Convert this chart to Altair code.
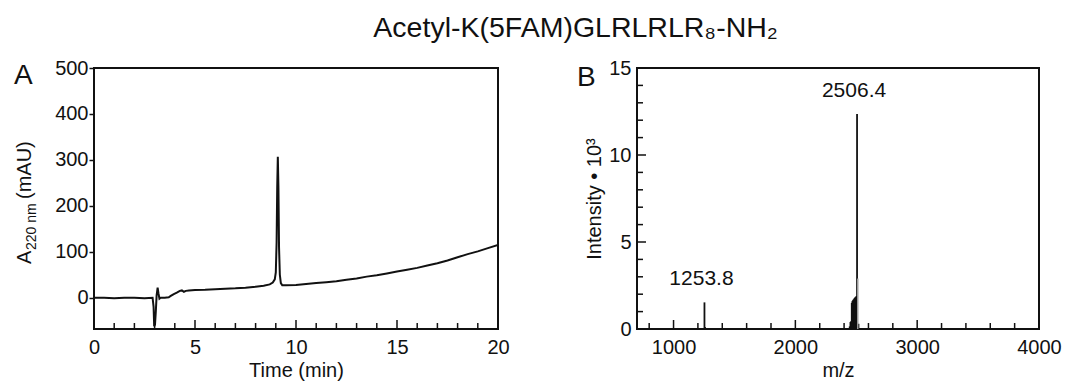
import altair as alt
import pandas as pd

FONT = "Liberation Sans"
INK = "#111111"

TITLE = "Acetyl-K(5FAM)GLRLRLR₈-NH₂"
YTITLE_A = ["A", "220 nm", "(mAU)"]

# ---- Panel A: HPLC trace (time in min, absorbance in mAU)
hplc_time = [0.0, 0.5, 1.0, 1.5, 2.0, 2.5, 2.9, 2.95, 2.98, 3.02, 3.06, 3.10,
             3.15, 3.19, 3.24, 3.3, 3.5, 3.7, 3.8, 3.95, 4.1, 4.25, 4.35, 4.45,
             4.55, 4.7, 5.0, 5.5, 6.0, 6.5, 7.0, 7.5, 8.0, 8.4, 8.7, 8.85, 8.95,
             9.0, 9.04, 9.07, 9.10, 9.13, 9.16, 9.2, 9.25, 9.32, 9.5, 10.0, 10.5,
             11.0, 11.5, 12.0, 12.5, 13.0, 13.5, 14.0, 14.5, 15.0, 15.5, 16.0,
             16.5, 17.0, 17.5, 18.0, 18.5, 19.0, 19.5, 20.0]
hplc_abs = [0, 0, -1, 0, 0, -1, 0, -20, -62, -58, -30, 5,
            22, 10, -2, 0, 0, 1, 4, 8, 11, 15, 16, 13,
            15, 16, 17, 17.5, 18.5, 19.5, 20.5, 22, 24, 26, 29, 33, 40,
            55, 120, 240, 307, 240, 110, 50, 32, 27, 27, 28, 30,
            32, 34, 36, 39, 42, 46, 49, 53, 57, 61, 65,
            70, 75, 81, 88, 95, 101, 108, 115]

a_x_labels = [0, 5, 10, 15, 20]
a_x_minor = [1, 2, 3, 4, 6, 7, 8, 9, 11, 12, 13, 14, 16, 17, 18, 19]
a_y_labels = [0, 100, 200, 300, 400, 500]

# ---- Panel B: mass spectrum (m/z, intensity x 10^3)
ms_mz = [1253.8, 1258, 2446, 2452, 2458, 2463, 2468, 2473, 2478, 2483, 2488,
         2493, 2498, 2502, 2506.4, 2518]
ms_int = [1.53, 0.12, 0.15, 0.40, 0.45, 1.50, 1.60, 1.65, 1.70, 1.75, 1.80,
          1.82, 1.85, 1.90, 12.36, 0.30]
ms_shoulder_mz = [2512]
ms_shoulder_int = [2.9]
peak_label_mz = [1253.8, 2506.4]
peak_label_int = [1.53, 12.36]
peak_label_text = ["1253.8", "2506.4"]

b_x_labels = [1000, 2000, 3000, 4000]
b_x_minor = [800, 1200, 1400, 1600, 1800, 2200, 2400, 2600, 2800,
             3200, 3400, 3600, 3800]
b_y_labels = [0, 5, 10, 15]
b_y_minor = [1, 2, 3, 4, 6, 7, 8, 9, 11, 12, 13, 14]

WA, WB, H = 404, 402, 261
MINOR, MAJOR = 6, 9


def xA():
    return alt.X("t:Q", scale=alt.Scale(domain=[0, 20], nice=False, zero=False),
                 axis=alt.Axis(values=a_x_labels, ticks=False, domain=False, grid=False,
                               labelPadding=8, labelFlush=False, title="Time (min)",
                               titlePadding=3, format="d"))


def yA():
    return alt.Y("v:Q", scale=alt.Scale(domain=[-68, 500], nice=False, zero=False),
                 axis=alt.Axis(values=a_y_labels, tickSize=5, domain=False, grid=False,
                               labelPadding=1, labelFlush=False, title=None, format="d"))


def xB():
    return alt.X("mz:Q", scale=alt.Scale(domain=[700, 4000], nice=False, zero=False),
                 axis=alt.Axis(values=b_x_labels, ticks=False, domain=False, grid=False,
                               labelPadding=8, labelFlush=False, title="m/z",
                               titlePadding=3, format="d"))


def yB():
    return alt.Y("i:Q", scale=alt.Scale(domain=[0, 15], nice=False, zero=False),
                 axis=alt.Axis(values=b_y_labels, ticks=False, domain=False, grid=False,
                               labelPadding=6, labelFlush=False, title="Intensity • 10³",
                               titlePadding=4, format="d"))


def label(txt, size, x, y, angle=0):
    return alt.Chart(pd.DataFrame({"txt": [txt]})).mark_text(
        font=FONT, fontSize=size, color=INK, align="left", baseline="alphabetic",
        angle=angle).encode(text="txt:N", x=alt.value(x), y=alt.value(y))


# ---------------- Panel A ----------------
dfA = pd.DataFrame({"t": hplc_time, "v": hplc_abs})
lineA = alt.Chart(dfA).mark_line(color=INK, strokeWidth=2, clip=True).encode(x=xA(), y=yA())
ticksA_minor = alt.Chart(pd.DataFrame({"t": a_x_minor})).mark_rule(
    color=INK, strokeWidth=1.5).encode(x=xA(), y=alt.value(H), y2=alt.value(H - MINOR))
ticksA_major = alt.Chart(pd.DataFrame({"t": a_x_labels})).mark_rule(
    color=INK, strokeWidth=1.5).encode(x=xA(), y=alt.value(H), y2=alt.value(H - MAJOR))
tagA = label("A", 28, -80, 16)
# y-axis title with a real subscript: A(220 nm) (mAU), read bottom-to-top
ytA1 = label(YTITLE_A[0], 20, -63, 196, 270)
ytA2 = label(YTITLE_A[1], 14, -58, 182, 270)
ytA3 = label(YTITLE_A[2], 20, -63, 131, 270)

panelA = alt.layer(lineA, ticksA_minor, ticksA_major, tagA, ytA1, ytA2, ytA3).properties(
    width=WA, height=H)

# ---------------- Panel B ----------------
dfB = pd.DataFrame({"mz": ms_mz, "i": ms_int})
sticks = alt.Chart(dfB).mark_rule(color=INK, strokeWidth=1.8).encode(
    x=xB(), y=yB(), y2=alt.datum(0))
shoulder = alt.Chart(pd.DataFrame({"mz": ms_shoulder_mz, "i": ms_shoulder_int})).mark_rule(
    color="#9a9a9a", strokeWidth=1.5).encode(x=xB(), y=yB(), y2=alt.datum(0))
labelsB = alt.Chart(pd.DataFrame({"mz": peak_label_mz, "i": peak_label_int,
                                  "txt": peak_label_text})).mark_text(
    font=FONT, fontSize=21, color=INK, dx=-3, dy=-17, baseline="alphabetic").encode(
    x=xB(), y=yB(), text="txt:N")
ticksB_xminor = alt.Chart(pd.DataFrame({"mz": b_x_minor})).mark_rule(
    color=INK, strokeWidth=1.5).encode(x=xB(), y=alt.value(H), y2=alt.value(H - MINOR))
ticksB_xmajor = alt.Chart(pd.DataFrame({"mz": b_x_labels})).mark_rule(
    color=INK, strokeWidth=1.5).encode(x=xB(), y=alt.value(H), y2=alt.value(H - MAJOR))
ticksB_yminor = alt.Chart(pd.DataFrame({"i": b_y_minor})).mark_rule(
    color=INK, strokeWidth=1.5).encode(y=yB(), x=alt.value(0), x2=alt.value(MINOR))
ticksB_ymajor = alt.Chart(pd.DataFrame({"i": b_y_labels})).mark_rule(
    color=INK, strokeWidth=1.5).encode(y=yB(), x=alt.value(0), x2=alt.value(MAJOR))
tagB = label("B", 28, -60, 18)

panelB = alt.layer(sticks, shoulder, labelsB, ticksB_xminor, ticksB_xmajor,
                   ticksB_yminor, ticksB_ymajor, tagB).properties(width=WB, height=H)

chart = alt.hconcat(panelA, panelB, spacing=65).properties(
    title=alt.TitleParams(text=TITLE, font=FONT, fontSize=28.5, fontWeight="normal",
                          color=INK, anchor="middle", dx=38, offset=15),
    padding={"left": 5, "top": 5, "right": 5, "bottom": 0},
).configure_view(stroke=INK, strokeWidth=2).configure_axis(
    labelFont=FONT, labelFontSize=20, labelColor=INK,
    titleFont=FONT, titleFontSize=20, titleFontWeight="normal", titleColor=INK,
    tickColor=INK, tickWidth=1.5,
)

chart.save("out.html", embed_options={"renderer": "svg", "actions": False})
